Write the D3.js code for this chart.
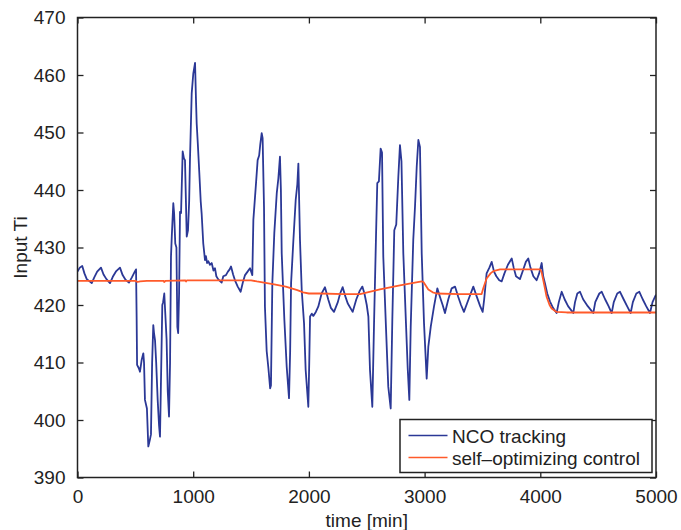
<!DOCTYPE html>
<html>
<head>
<meta charset="utf-8">
<script src="https://cdn.jsdelivr.net/npm/d3@7"></script>
<style>
  body { margin: 0; background: #fff; }
  svg text { font-family: "Liberation Sans", Arial, Helvetica, sans-serif; fill: #222; }
</style>
</head>
<body>
<div id="chart"></div>
<script>
// Chart data
const xTicks = [0, 1000, 2000, 3000, 4000, 5000];
const yTicks = [390, 400, 410, 420, 430, 440, 450, 460, 470];
const seriesNames = ['NCO tracking', 'self\u2013optimizing control'];

// NCO tracking: [time, input Ti]
const ncoTracking = [
  [0, 425.8], [20, 426.5], [41, 426.8], [60, 425.5], [80, 424.5], [100, 424.2], [123, 423.8],
  [145, 424.8], [170, 425.8], [203, 426.5], [225, 425.3], [250, 424.5], [281, 423.8],
  [305, 424.9], [335, 425.9], [367, 426.5], [390, 425.2], [415, 424.4], [445, 423.9],
  [470, 424.8], [495, 425.8], [506, 426.2], [511, 418], [515, 409.6], [530, 409.0],
  [540, 408.4], [555, 410.5], [569, 411.6], [575, 410], [583, 403.5], [600, 402],
  [612, 395.4], [625, 396.5], [635, 397.5], [645, 410], [655, 416.5], [662, 415],
  [670, 413.9], [680, 410], [693, 403.5], [705, 399], [713, 397.1], [720, 405],
  [733, 420], [740, 420.5], [750, 422], [760, 418], [770, 414], [780, 405], [791, 400.6],
  [800, 410], [808, 428.4], [815, 432], [828, 437.7], [835, 436], [845, 430.7], [855, 430],
  [863, 416.2], [870, 415.1], [878, 422], [886, 436.2], [895, 436], [909, 446.7],
  [920, 445.5], [929, 445.2], [944, 431.9], [955, 433], [965, 438], [972, 445.2],
  [987, 456.8], [1001, 460.3], [1016, 462.1], [1025, 455], [1030, 451.6], [1040, 448],
  [1053, 442.9], [1065, 438], [1073, 435.9], [1087, 430.7], [1102, 427.8], [1110, 428.5],
  [1120, 427.3], [1131, 427.6], [1145, 427], [1160, 427.3], [1175, 426], [1188, 426.4],
  [1200, 425], [1215, 424.5], [1230, 424.2], [1246, 423.9], [1260, 425], [1283, 425.2],
  [1300, 425.8], [1315, 426.2], [1327, 426.7], [1345, 425.3], [1361, 424.3], [1385, 423.2],
  [1410, 422.3], [1430, 424], [1448, 425.2], [1470, 425.8], [1491, 426.4], [1511, 425.2],
  [1520, 434.8], [1543, 441.2], [1557, 445.2], [1570, 446], [1580, 448], [1592, 449.9],
  [1600, 449], [1605, 444], [1612, 437.1], [1620, 419.7], [1635, 412], [1650, 409],
  [1665, 405.5], [1672, 406], [1684, 423.8], [1701, 432.5], [1722, 439.4], [1736, 442],
  [1750, 445.8], [1758, 440], [1765, 429], [1788, 417.4], [1808, 409.3], [1828, 403.8],
  [1838, 412], [1846, 423.8], [1866, 431.3], [1886, 438.3], [1900, 441], [1909, 444.6],
  [1923, 431.3], [1938, 422.6], [1958, 416.8], [1972, 408.7], [1995, 402.3], [2003, 410],
  [2010, 418], [2025, 418.5], [2038, 418.1], [2060, 418.8], [2081, 419.7], [2110, 422],
  [2139, 423.1], [2168, 420.9], [2190, 419.5], [2217, 418.8], [2250, 420.5], [2270, 422],
  [2292, 423.1], [2315, 421.5], [2335, 420.3], [2378, 418.8], [2410, 421], [2440, 422.5],
  [2462, 423.2], [2480, 422], [2500, 420], [2514, 418], [2528, 408.7], [2548, 402.3],
  [2563, 416.8], [2580, 431.9], [2591, 441.2], [2605, 441.5], [2620, 447.2], [2632, 446.5],
  [2643, 428.4], [2666, 416.2], [2686, 405.8], [2707, 402], [2721, 417.4], [2738, 433],
  [2755, 434], [2773, 442.3], [2787, 447.8], [2800, 445], [2816, 429], [2839, 416.8],
  [2854, 409], [2868, 403.5], [2880, 416.2], [2902, 431.3], [2917, 437.1], [2932, 444.1],
  [2946, 448.7], [2960, 447.5], [2975, 429], [2995, 416.8], [3018, 407.2], [3032, 412.7],
  [3053, 416.2], [3081, 419.7], [3110, 422.9], [3133, 421.4], [3156, 420], [3176, 418.6],
  [3205, 421], [3234, 422.9], [3263, 423.2], [3291, 421.4], [3315, 420], [3340, 418.8],
  [3380, 421], [3421, 423.2], [3450, 421.5], [3480, 419.8], [3502, 418.8], [3515, 421],
  [3536, 425.5], [3560, 426.5], [3580, 427.5], [3600, 425.8], [3620, 425], [3645, 424.3],
  [3666, 424.1], [3690, 425.5], [3720, 427], [3753, 428.1], [3770, 426.5], [3790, 425],
  [3824, 424.5], [3850, 426], [3875, 427.5], [3896, 428.1], [3915, 426.5], [3940, 425],
  [3968, 424.3], [3990, 425.5], [4012, 427.3], [4025, 425], [4040, 423.8], [4060, 422],
  [4084, 420.6], [4110, 419.5], [4141, 418.6], [4160, 420.5], [4185, 422.3], [4210, 421],
  [4240, 419.8], [4285, 418.6], [4300, 420.5], [4320, 422], [4343, 422.3], [4370, 421],
  [4410, 419.8], [4458, 418.6], [4475, 420.5], [4510, 422], [4531, 422.3], [4560, 421],
  [4590, 419.8], [4617, 418.6], [4635, 420.5], [4665, 422], [4689, 422.3], [4720, 421],
  [4750, 419.8], [4781, 418.6], [4800, 420.5], [4830, 422], [4856, 422.3], [4885, 421],
  [4915, 419.8], [4948, 418.6], [4970, 420.5], [5000, 421.8]
];

// self-optimizing control: [time, input Ti]
const selfOptimizing = [
  [0, 424.2], [500, 424.2], [520, 424.0], [540, 424.1], [600, 424.2], [745, 424.2],
  [750, 424.0], [760, 424.2], [930, 424.3], [938, 424.1], [946, 424.3], [1500, 424.3],
  [1550, 424.1], [1700, 423.6], [1800, 423.2], [1900, 422.6], [1950, 422.2], [2000, 422.0],
  [2100, 422.0], [2300, 421.9], [2442, 421.9], [2614, 422.7], [2787, 423.4], [2975, 424.1],
  [2990, 424.0], [3032, 422.7], [3070, 422.2], [3104, 422.0], [3300, 421.9], [3493, 421.9],
  [3507, 422.9], [3536, 424.6], [3570, 425.5], [3594, 425.9], [3652, 426.2], [3997, 426.2],
  [4010, 425.8], [4026, 424.3], [4055, 421.4], [4080, 420.0], [4098, 419.4], [4141, 418.8],
  [4228, 418.7], [5000, 418.7]
];

const colors = ['#2b3896', '#ff5a2a'];

const width = 681;
const height = 530;
const margin = { top: 17.5, left: 77.5, right: 25, bottom: 52.5 };

const svg = d3.select('#chart')
  .append('svg')
  .attr('width', width)
  .attr('height', height);

svg.append('rect').attr('width', width).attr('height', height).attr('fill', '#fff');

const xScale = d3.scaleLinear()
  .domain([0, 5000])
  .range([margin.left, width - margin.right]);

const yScale = d3.scaleLinear()
  .domain([390, 470])
  .range([height - margin.bottom, margin.top]);

svg.append('clipPath').attr('id', 'plot')
  .append('rect')
  .attr('x', margin.left).attr('y', margin.top)
  .attr('width', xScale.range()[1] - margin.left)
  .attr('height', yScale.range()[0] - margin.top);

// Lines
const line = d3.line()
  .x(d => xScale(d[0]))
  .y(d => yScale(d[1]));

const lines = svg.append('g').attr('clip-path', 'url(#plot)');

lines.append('path')
  .datum(ncoTracking)
  .attr('fill', 'none')
  .attr('stroke', colors[0])
  .attr('stroke-width', 1.8)
  .attr('stroke-linejoin', 'round')
  .attr('d', line);

lines.append('path')
  .datum(selfOptimizing)
  .attr('fill', 'none')
  .attr('stroke', colors[1])
  .attr('stroke-width', 1.8)
  .attr('stroke-linejoin', 'round')
  .attr('d', line);

// Axes (MATLAB style, ticks inward on all four sides)
const tickLen = 6;
const x0 = xScale.range()[0], x1 = xScale.range()[1];
const y0 = yScale.range()[0], y1 = yScale.range()[1];

const bottomAxis = svg.append('g')
  .attr('transform', `translate(0, ${y0})`)
  .call(d3.axisBottom(xScale).tickValues(xTicks).tickSize(-tickLen).tickPadding(12).tickFormat(d3.format('d')));
const topAxis = svg.append('g')
  .attr('transform', `translate(0, ${y1})`)
  .call(d3.axisTop(xScale).tickValues(xTicks).tickSize(-tickLen).tickFormat(''));
const leftAxis = svg.append('g')
  .attr('transform', `translate(${x0}, 0)`)
  .call(d3.axisLeft(yScale).tickValues(yTicks).tickSize(-tickLen).tickPadding(12).tickFormat(d3.format('d')));
const rightAxis = svg.append('g')
  .attr('transform', `translate(${x1}, 0)`)
  .call(d3.axisRight(yScale).tickValues(yTicks).tickSize(-tickLen).tickFormat(''));

[bottomAxis, topAxis, leftAxis, rightAxis].forEach(ax => {
  ax.select('.domain').remove();
  ax.selectAll('line').attr('stroke', '#222').attr('stroke-width', 1.3);
  ax.selectAll('text').attr('font-size', 19).attr('fill', '#222')
    .style('font-family', '"Liberation Sans", Arial, sans-serif');
});

// Box
svg.append('rect')
  .attr('x', x0).attr('y', y1)
  .attr('width', x1 - x0).attr('height', y0 - y1)
  .attr('fill', 'none')
  .attr('stroke', '#222')
  .attr('stroke-width', 1.5);

// Axis labels
svg.append('text')
  .attr('x', (x0 + x1) / 2)
  .attr('y', 527)
  .attr('text-anchor', 'middle')
  .attr('font-size', 19)
  .text('time [min]');

svg.append('text')
  .attr('transform', `translate(27, ${(y0 + y1) / 2}) rotate(-90)`)
  .attr('text-anchor', 'middle')
  .attr('font-size', 19)
  .text('Input Ti');

// Legend
const legend = svg.append('g').attr('transform', 'translate(400, 419.5)');
legend.append('rect')
  .attr('width', 252).attr('height', 53)
  .attr('fill', '#fff')
  .attr('stroke', '#222')
  .attr('stroke-width', 1.5);

seriesNames.forEach((name, i) => {
  const yy = 16 + i * 22;
  legend.append('line')
    .attr('x1', 8.5).attr('x2', 47.5)
    .attr('y1', yy).attr('y2', yy)
    .attr('stroke', colors[i])
    .attr('stroke-width', 1.5);
  legend.append('text')
    .attr('x', 52)
    .attr('y', yy + 7)
    .attr('font-size', 19)
    .text(name);
});
</script>
</body>
</html>
